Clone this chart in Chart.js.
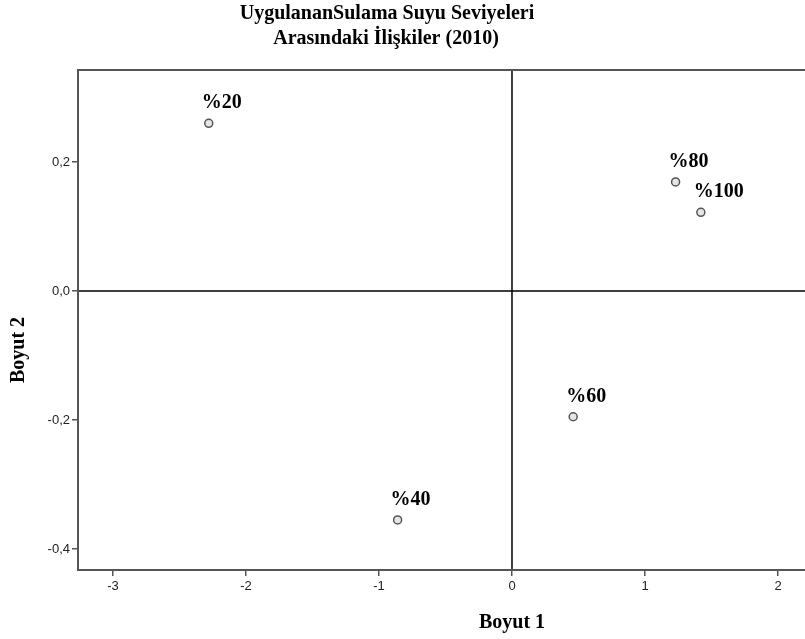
<!DOCTYPE html>
<html>
<head>
<meta charset="utf-8">
<script src="https://cdn.jsdelivr.net/npm/chart.js@4"></script>
<style>
  html, body { margin: 0; padding: 0; background: #fff; overflow: hidden; }
  #wrap { width: 805px; height: 639px; }
</style>
</head>
<body>
<div id="wrap"><canvas id="mdsChart"></canvas></div>
<script>
// points from the picture (Boyut 1 / Boyut 2 coordinates)
const pointLabels = ["%20", "%40", "%60", "%80", "%100"];
const boyut1 = [-2.28, -0.86, 0.46, 1.23, 1.42];
const boyut2 = [0.260, -0.355, -0.195, 0.169, 0.122];

const xTicks = [-3, -2, -1, 0, 1, 2];
const yTicks = [-0.4, -0.2, 0.0, 0.2];

const titleLines = ["UygulananSulama Suyu Seviyeleri", "Arasındaki İlişkiler (2010)"];
const xTitle = "Boyut 1";
const yTitle = "Boyut 2";

const serifFamily = "'Liberation Serif', 'Times New Roman', serif";

const points = [];
for (let index = 0; index < pointLabels.length; index++) {
  points.push({ x: boyut1[index], y: boyut2[index] });
}

// frame, zero lines, point labels and titles
const extras = {
  id: "extras",
  beforeDatasetsDraw(chart) {
    const { ctx, chartArea: a, scales } = chart;
    const x0 = scales.x.getPixelForValue(0);
    const y0 = scales.y.getPixelForValue(0);
    ctx.save();
    ctx.strokeStyle = "#000";
    ctx.lineWidth = 1.5;
    ctx.beginPath();
    ctx.moveTo(x0, a.top);
    ctx.lineTo(x0, a.bottom);
    ctx.moveTo(a.left, y0);
    ctx.lineTo(a.right, y0);
    ctx.stroke();
    ctx.strokeStyle = "#555";
    ctx.lineWidth = 2;
    ctx.strokeRect(a.left, a.top, a.right - a.left + 2, a.bottom - a.top);
    ctx.restore();
  },
  afterDatasetsDraw(chart) {
    const { ctx, scales } = chart;
    ctx.save();
    ctx.fillStyle = "#000";
    ctx.font = "bold 20px " + serifFamily;
    ctx.textAlign = "left";
    ctx.textBaseline = "alphabetic";
    points.forEach((p, i) => {
      const px = scales.x.getPixelForValue(p.x);
      const py = scales.y.getPixelForValue(p.y);
      ctx.fillText(pointLabels[i], px - 7, py - 15);
    });

    ctx.textAlign = "center";
    ctx.fillText(titleLines[0], 387, 19);
    ctx.fillText(titleLines[1], 386, 44);

    ctx.fillText(xTitle, scales.x.getPixelForValue(0), 628);

    ctx.translate(24, 350);
    ctx.rotate(-Math.PI / 2);
    ctx.fillText(yTitle, 0, 0);
    ctx.restore();
  },
};

const ctx = document.querySelector("#mdsChart").getContext("2d");

const mdsChart = new Chart(ctx, {
  type: "scatter",
  data: {
    datasets: [
      {
        label: "Boyutlar",
        data: points,
        pointRadius: 4,
        pointHoverRadius: 4,
        backgroundColor: "#e6e6e6",
        borderColor: "#555",
        borderWidth: 1.5,
      },
    ],
  },
  options: {
    responsive: true,
    maintainAspectRatio: false,
    animation: false,
    layout: { autoPadding: false, padding: { top: 70, left: 0, right: 0, bottom: 0 } },
    plugins: {
      legend: { display: false },
      tooltip: { enabled: false },
      title: { display: false },
    },
    scales: {
      x: {
        type: "linear",
        min: -3.263,
        max: 2.203,
        afterBuildTicks: (scale) => {
          scale.ticks = xTicks.map((v) => ({ value: v }));
        },
        afterFit: (scale) => {
          scale.height = 69;
          scale.paddingLeft = 0;
          scale.paddingRight = 0;
        },
        grid: {
          drawOnChartArea: false,
          drawTicks: true,
          tickLength: 6,
          color: "#555",
          lineWidth: 1.5,
        },
        border: { display: false },
        ticks: {
          color: "#222",
          padding: 3,
          font: { family: "'Liberation Sans', Arial, sans-serif", size: 13 },
          callback: (v) => String(v),
        },
      },
      y: {
        type: "linear",
        min: -0.4326,
        max: 0.3426,
        afterBuildTicks: (scale) => {
          scale.ticks = yTicks.map((v) => ({ value: v }));
        },
        afterFit: (scale) => {
          scale.width = 78;
          scale.paddingTop = 0;
          scale.paddingBottom = 0;
        },
        grid: {
          drawOnChartArea: false,
          drawTicks: true,
          tickLength: 6,
          color: "#555",
          lineWidth: 1.5,
        },
        border: { display: false },
        ticks: {
          color: "#222",
          padding: 2,
          font: { family: "'Liberation Sans', Arial, sans-serif", size: 13 },
          callback: (v) => Number(v).toFixed(1).replace(".", ","),
        },
      },
    },
  },
  plugins: [extras],
});
</script>
</body>
</html>
